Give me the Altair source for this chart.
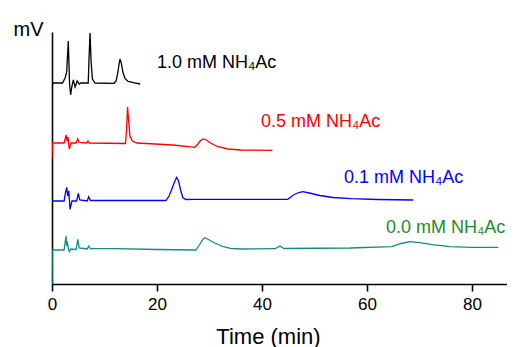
import altair as alt
import pandas as pd

# ---- data (time in min, signal in arbitrary mV units) ----
black_t = [0.0, 0.15, 2.0, 2.5, 2.8, 3.1, 3.35, 3.55, 3.8, 4.06, 4.4, 4.8, 5.2, 5.5, 6.9, 7.05, 7.25, 7.45, 7.7, 8.2, 11.8, 12.2, 12.5, 12.75, 12.95, 13.2, 13.5, 13.9, 14.5, 15.5, 16.8]
black_v = [197, 201, 201, 206, 212, 243, 200, 189, 198, 204, 197, 203, 200, 201, 201, 225, 251, 222, 205, 201, 200.7, 203, 210, 219, 225, 221, 212, 205.5, 202.5, 201.3, 200]

red_t = [0.0, 0.12, 2.3, 2.55, 2.7, 2.85, 3.05, 3.3, 3.6, 4.6, 4.9, 5.2, 6.6, 6.85, 7.1, 14.0, 14.2, 14.4, 14.6, 14.85, 15.3, 16.2, 23.0, 27.2, 27.8, 28.3, 28.8, 29.4, 30.2, 31.5, 33.5, 36.0, 42.0]
red_v = [126, 141, 141, 146, 149, 143, 147, 135, 141, 141, 145, 141.5, 141, 143, 141, 140.5, 155, 177, 163, 148, 143, 141, 139, 136.7, 140, 143.5, 145, 144, 141, 137.5, 135, 134, 133.7]

blue_t = [0.0, 2.3, 2.6, 2.8, 3.0, 3.2, 3.43, 3.8, 4.7, 5.0, 5.3, 6.7, 7.0, 7.3, 21.7, 22.3, 22.9, 23.4, 23.75, 24.1, 24.5, 24.9, 25.5, 27.0, 44.9, 46.0, 47.0, 47.8, 49.0, 51.0, 53.5, 57.0, 62.0, 68.8]
blue_v = [83, 83, 92, 96.7, 88, 93, 74.7, 83, 83, 90.7, 84, 83, 87.3, 83.5, 83.5, 88, 96, 103, 106.5, 103, 94, 86.5, 84.5, 84.7, 84.7, 89, 91.5, 92.3, 91, 88.5, 86.5, 85.3, 84.5, 84]

teal_t = [0.0, 0.05, 2.3, 2.67, 2.8, 2.9, 3.1, 3.3, 3.6, 4.6, 4.9, 5.2, 6.7, 7.0, 7.3, 12.0, 20.0, 27.4, 28.2, 28.8, 29.1, 29.8, 31.0, 32.5, 34.0, 36.0, 42.5, 43.4, 44.2, 56.8, 64.7, 66.5, 68.2, 70.0, 72.5, 75.8, 80.0, 85.0]
teal_v = [0, 34, 34, 48, 38, 42.3, 36, 32.3, 35, 34.5, 44.7, 36, 35, 38, 35.5, 35.3, 34.5, 34, 40, 45, 46.3, 44.5, 41, 37.5, 35.7, 35, 35.3, 38, 35.5, 36, 37.3, 40.5, 42.3, 41.3, 39.3, 37.3, 36.7, 36.7]

series_names = ["1.0 mM", "0.5 mM", "0.1 mM", "0.0 mM"]
line_colors = ["#000000", "#ff0000", "#0000ff", "#138a86"]

label_texts = ["1.0 mM NH\u2084Ac", "0.5 mM NH\u2084Ac", "0.1 mM NH\u2084Ac", "0.0 mM NH\u2084Ac"]
label_t = [20.0, 39.8, 55.6, 63.6]
label_v = [215.7, 157.3, 101.3, 50.7]
label_colors = ["#000000", "#ff0000", "#0000ff", "#1f8c1f"]

x_ticks = [0, 20, 40, 60, 80]

rows = []
for name, ts, vs in zip(series_names, [black_t, red_t, blue_t, teal_t], [black_v, red_v, blue_v, teal_v]):
    for i, (t, v) in enumerate(zip(ts, vs)):
        rows.append({"series": name, "t": t, "v": v, "idx": i})
df = pd.DataFrame(rows)

labels_df = pd.DataFrame({"text": label_texts, "t": label_t, "v": label_v, "col": label_colors})

xscale = alt.Scale(domain=[0, 86.67], nice=False, zero=False)
yscale = alt.Scale(domain=[0, 252], nice=False, zero=False)

lines = alt.Chart(df).mark_line(strokeWidth=1.3, clip=True).encode(
    x=alt.X("t:Q", scale=xscale,
            axis=alt.Axis(values=x_ticks, title="Time (min)", grid=False,
                          domainColor="black", domainWidth=1.6, tickColor="black",
                          tickWidth=1.6, tickSize=7, labelFontSize=17, labelColor="black",
                          labelPadding=5, labelFlush=False,
                          titleFontSize=22, titleFontWeight="normal", titleColor="black",
                          titleX=216, titleY=59, titleBaseline="alphabetic")),
    y=alt.Y("v:Q", scale=yscale,
            axis=alt.Axis(title="mV", labels=False, ticks=False, grid=False,
                          domainColor="black", domainWidth=1.6,
                          titleAngle=0, titleAlign="left", titleX=-39, titleY=3,
                          titleBaseline="alphabetic", titleFontSize=20,
                          titleFontWeight="normal", titleColor="black")),
    color=alt.Color("series:N", scale=alt.Scale(domain=series_names, range=line_colors), legend=None),
    order="idx:Q",
)

texts = alt.Chart(labels_df).mark_text(align="left", baseline="alphabetic", fontSize=18).encode(
    x=alt.X("t:Q", scale=xscale),
    y=alt.Y("v:Q", scale=yscale),
    text="text:N",
    color=alt.Color("col:N", scale=None),
)

chart = alt.layer(lines, texts).properties(
    width=455, height=252,
    autosize=alt.AutoSizeParams(type="none"),
    padding={"left": 44, "top": 24, "right": 0, "bottom": 63},
).configure(font="Liberation Sans").configure_view(stroke=None)

chart.save("out.html", embed_options={"renderer": "svg", "actions": False})
